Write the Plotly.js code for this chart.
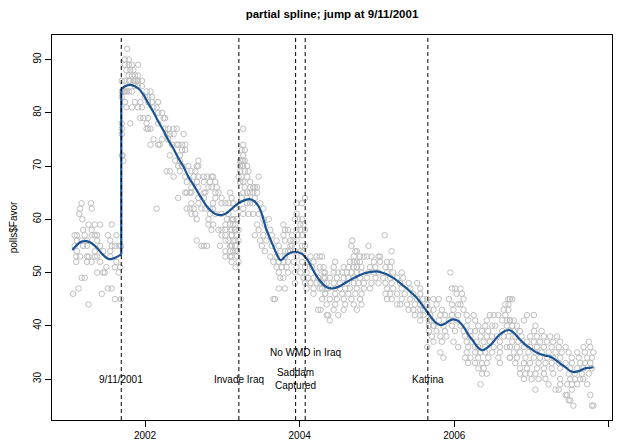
<!DOCTYPE html>
<html>
<head>
<meta charset="utf-8">
<script src="https://cdn.plot.ly/plotly-3.0.1.min.js"></script>
<style>html,body{margin:0;padding:0;background:#fff;}#chart{width:620px;height:442px;}</style>
</head>
<body>
<div id="chart"></div>
<script>
// Poll readings, grouped as [Favor value, [poll dates in decimal years]]
const polls2001 = [
  [63, [2001.18, 2001.30]], [62, [2001.16, 2001.31]], [61, [2001.15]], [60, [2001.19]],
  [59, [2001.27, 2001.35, 2001.42, 2001.57]], [58, [2001.20, 2001.31]],
  [57, [2001.09, 2001.12, 2001.22, 2001.31, 2001.35, 2001.38, 2001.52, 2001.63]],
  [56, [2001.12, 2001.18, 2001.25, 2001.38, 2001.55]],
  [55, [2001.09, 2001.20, 2001.25, 2001.42, 2001.57, 2001.61, 2001.66, 2001.69]],
  [54, [2001.12, 2001.35, 2001.46, 2001.55]],
  [53, [2001.11, 2001.16, 2001.25, 2001.27, 2001.35, 2001.38, 2001.55]],
  [52, [2001.11, 2001.25, 2001.31, 2001.42, 2001.63]], [51, [2001.50, 2001.61, 2001.68]],
  [50, [2001.38, 2001.46, 2001.48, 2001.66]], [49, [2001.18, 2001.22]],
  [47, [2001.14, 2001.52, 2001.57]], [46, [2001.07, 2001.44]], [45, [2001.61, 2001.69]], [44, [2001.27]]
];
const polls2002 = [
  [92, [2001.77]], [90, [2001.74, 2001.79]], [89, [2001.74, 2001.79, 2001.83, 2001.91]],
  [88, [2001.76, 2001.81, 2001.85]], [87, [2001.79, 2001.83, 2001.87, 2001.91]],
  [86, [2001.70, 2001.74, 2001.79, 2001.81, 2001.85, 2001.87, 2001.89, 2001.91, 2001.96]],
  [85, [2001.87, 2001.91, 2001.96]],
  [84, [2001.70, 2001.72, 2001.74, 2001.76, 2001.79, 2001.83, 2002.02, 2002.07]],
  [83, [2001.70, 2002.00, 2002.04, 2002.09]],
  [82, [2001.74, 2001.87, 2001.94, 2002.04, 2002.09, 2002.17]],
  [81, [2001.76, 2001.83, 2001.91, 2001.96, 2002.11, 2002.15]], [80, [2002.17, 2002.22]],
  [79, [2001.94, 2001.98, 2002.04, 2002.24, 2002.26]], [78, [2001.70, 2001.81, 2002.02, 2002.17]],
  [77, [2001.70, 2002.02, 2002.04, 2002.07, 2002.26, 2002.30, 2002.37, 2002.41]],
  [76, [2001.70, 2002.28, 2002.32, 2002.37, 2002.50]], [75, [2002.11, 2002.22, 2002.30]],
  [74, [2002.07, 2002.17, 2002.19, 2002.35, 2002.41, 2002.43, 2002.48, 2002.52]],
  [73, [2002.48, 2002.52]], [72, [2001.70, 2001.71, 2002.32, 2002.45]],
  [71, [2001.72, 2002.39, 2002.45, 2002.69]], [70, [2002.43, 2002.48, 2002.56, 2002.67, 2002.69]],
  [69, [2002.28, 2002.32, 2002.45, 2002.60, 2002.65]],
  [68, [2002.37, 2002.52, 2002.63, 2002.69, 2002.76, 2002.80, 2002.86, 2002.88]],
  [67, [2002.54, 2002.67, 2002.76, 2002.84, 2002.91]], [66, [2002.60, 2002.69, 2002.82, 2002.86, 2002.93]],
  [65, [2002.52, 2002.54, 2002.58, 2002.60, 2002.76, 2002.78, 2002.91, 2002.95, 2003.10]],
  [64, [2002.43, 2002.69, 2002.76, 2002.91, 2002.99]],
  [63, [2002.60, 2002.69, 2002.88, 2002.99, 2003.04, 2003.08, 2003.14]],
  [62, [2002.15, 2002.54, 2002.58, 2002.63, 2002.73, 2002.78, 2002.84, 2002.88]],
  [61, [2002.60, 2002.65, 2002.84, 2002.91, 2002.99, 2003.08]],
  [60, [2002.67, 2002.82, 2003.06, 2003.12, 2003.14, 2003.19]],
  [59, [2002.82, 2002.88, 2003.04, 2003.10, 2003.14]],
  [58, [2002.86, 2002.95, 2002.99, 2003.04, 2003.10, 2003.17]], [57, [2002.99, 2003.04, 2003.12]],
  [56, [2002.67, 2003.04, 2003.08, 2003.17]],
  [55, [2002.73, 2002.76, 2002.80, 2002.97, 2003.10, 2003.12, 2003.17]],
  [54, [2003.04, 2003.10, 2003.17]], [53, [2003.04, 2003.10, 2003.19]], [52, [2003.12]]
];
const polls2003 = [
  [77, [2003.27]], [74, [2003.27]], [73, [2003.25, 2003.29]], [72, [2003.27]],
  [71, [2003.23, 2003.25, 2003.27, 2003.29]], [70, [2003.23, 2003.27, 2003.32]],
  [69, [2003.23, 2003.29, 2003.34]], [68, [2003.21, 2003.25, 2003.32, 2003.47]],
  [67, [2003.23, 2003.27, 2003.36]], [66, [2003.29, 2003.36, 2003.40, 2003.42, 2003.45]],
  [65, [2003.27, 2003.32, 2003.36, 2003.40, 2003.45]], [64, [2003.12, 2003.25, 2003.32, 2003.42, 2004.07]],
  [63, [2003.32, 2003.36, 2003.40, 2003.49, 2003.96, 2004.03]], [62, [2003.17, 2003.27, 2003.53]],
  [61, [2003.27, 2003.34, 2003.40, 2003.47, 2003.96]],
  [60, [2003.14, 2003.19, 2003.53, 2003.60, 2003.94, 2003.98, 2004.03]],
  [59, [2003.17, 2003.45, 2003.55, 2003.79, 2004.01, 2004.05]],
  [58, [2003.12, 2003.17, 2003.21, 2003.47, 2003.62, 2003.81, 2003.85, 2003.96, 2004.01, 2004.07]],
  [57, [2003.12, 2003.19, 2003.42, 2003.53, 2003.64, 2003.79, 2003.90, 2003.98, 2004.03]],
  [56, [2003.14, 2003.21, 2003.49, 2003.57, 2003.70, 2003.81, 2003.88, 2003.92, 2003.96]],
  [55, [2003.12, 2003.17, 2003.51, 2003.64, 2003.73, 2003.88, 2003.90, 2004.03, 2004.07]],
  [54, [2003.14, 2003.19, 2003.55, 2003.75, 2003.81, 2003.85, 2003.88, 2003.94, 2004.01, 2004.05]],
  [53, [2003.12, 2003.62, 2003.70, 2003.81, 2003.96, 2004.14, 2004.22, 2004.26]],
  [52, [2003.21, 2003.66, 2003.73, 2003.79, 2003.85, 2003.92, 2004.03, 2004.11, 2004.18]],
  [51, [2003.17, 2003.70, 2003.77, 2003.83, 2003.96, 2004.07, 2004.16, 2004.26]],
  [50, [2003.73, 2003.85, 2003.94, 2004.01, 2004.09, 2004.22, 2004.31]],
  [49, [2003.75, 2003.79, 2004.05, 2004.11, 2004.18, 2004.24, 2004.33]],
  [48, [2003.94, 2004.07, 2004.14, 2004.22, 2004.31]],
  [47, [2003.73, 2003.81, 2004.09, 2004.18, 2004.26, 2004.35]], [46, [2004.18, 2004.33]],
  [45, [2003.66, 2003.68]], [43, [2004.24]], [42, [2004.35]]
];
const polls2005 = [
  [57, [2005.10]], [56, [2004.68]], [55, [2004.67, 2004.89]], [54, [2004.72, 2004.74, 2005.19]],
  [53, [2004.29, 2004.70, 2004.78, 2004.83, 2004.87, 2004.93, 2005.02, 2005.04]],
  [52, [2004.46, 2004.65, 2004.70, 2004.74, 2004.78, 2004.96, 2005.04, 2005.13, 2005.19]],
  [51, [2004.31, 2004.44, 2004.57, 2004.63, 2004.70, 2004.74, 2004.80, 2004.91, 2004.98, 2005.11, 2005.17]],
  [50, [2004.33, 2004.44, 2004.50, 2004.55, 2004.61, 2004.67, 2004.74, 2004.80, 2004.89, 2004.96, 2005.02, 2005.13, 2005.21, 2005.32]],
  [49, [2004.31, 2004.39, 2004.48, 2004.57, 2004.63, 2004.70, 2004.78, 2004.87, 2004.98, 2005.08, 2005.17, 2005.26, 2005.34]],
  [48, [2004.27, 2004.35, 2004.44, 2004.52, 2004.61, 2004.70, 2004.76, 2004.83, 2004.93, 2005.02, 2005.11, 2005.19, 2005.30, 2005.41, 2005.52]],
  [47, [2004.29, 2004.37, 2004.46, 2004.52, 2004.59, 2004.65, 2004.74, 2004.83, 2004.91, 2005.13, 2005.21, 2005.32, 2005.43, 2005.56]],
  [46, [2004.33, 2004.46, 2004.55, 2004.63, 2004.72, 2004.80, 2005.11, 2005.17, 2005.26, 2005.36, 2005.47, 2005.56]],
  [45, [2004.29, 2004.39, 2004.48, 2004.57, 2004.67, 2004.78, 2005.13, 2005.19, 2005.32, 2005.43, 2005.52, 2005.60, 2005.65]],
  [44, [2004.35, 2004.46, 2004.59, 2004.70, 2004.80, 2005.26, 2005.30, 2005.39, 2005.49, 2005.56, 2005.65]],
  [43, [2004.27, 2004.44, 2004.57, 2004.74, 2005.41, 2005.47, 2005.56, 2005.60, 2005.67]],
  [42, [2004.37, 2004.50, 2005.49, 2005.56, 2005.60, 2005.69]],
  [41, [2004.39, 2005.56, 2005.67, 2005.71]], [40, [2005.67, 2005.73]]
];
const polls2006 = [
  [50, [2005.95]], [47, [2005.97, 2006.01, 2006.08]], [46, [2006.03, 2006.10]],
  [45, [2005.73, 2005.80, 2005.93, 2006.12, 2006.70, 2006.72]],
  [44, [2005.77, 2005.97, 2006.05, 2006.08, 2006.66, 2006.70]],
  [43, [2005.73, 2005.84, 2005.99, 2006.12, 2006.64, 2006.70]],
  [42, [2005.82, 2005.88, 2005.97, 2006.05, 2006.16, 2006.25, 2006.46, 2006.51, 2006.57, 2006.66]],
  [41, [2005.80, 2005.93, 2006.03, 2006.18, 2006.27, 2006.42, 2006.62, 2006.68, 2006.72]],
  [40, [2005.73, 2005.86, 2005.97, 2006.08, 2006.16, 2006.31, 2006.40, 2006.49, 2006.53, 2006.68]],
  [39, [2005.67, 2005.77, 2005.88, 2006.01, 2006.12, 2006.21, 2006.27, 2006.36, 2006.44, 2006.62, 2006.72]],
  [38, [2005.71, 2005.82, 2005.90, 2006.14, 2006.21, 2006.34, 2006.42, 2006.49, 2006.55, 2006.64, 2006.70]],
  [37, [2005.73, 2005.84, 2005.99, 2006.16, 2006.23, 2006.29, 2006.38, 2006.46, 2006.59]],
  [36, [2005.65, 2006.05, 2006.18, 2006.27, 2006.31, 2006.40, 2006.51, 2006.59, 2006.68]],
  [35, [2005.82, 2006.16, 2006.27, 2006.34, 2006.40, 2006.49, 2006.59]],
  [34, [2005.86, 2006.14, 2006.21, 2006.31, 2006.44, 2006.57, 2006.72]],
  [33, [2006.18, 2006.27, 2006.36, 2006.42, 2006.59]], [32, [2006.31, 2006.38]],
  [31, [2006.36, 2006.42]], [29, [2006.34]]
];
const polls2007 = [
  [45, [2006.75]], [42, [2006.94, 2007.03]], [41, [2006.72, 2006.77, 2006.90]],
  [40, [2006.75, 2006.81, 2007.05]], [39, [2006.77, 2006.85, 2007.03, 2007.13]],
  [38, [2006.79, 2006.87, 2006.98, 2007.07, 2007.16, 2007.24, 2007.33]],
  [37, [2006.75, 2006.83, 2006.94, 2007.03, 2007.11, 2007.20, 2007.28, 2007.37, 2007.74]],
  [36, [2006.72, 2006.81, 2006.90, 2006.98, 2007.07, 2007.16, 2007.26, 2007.35, 2007.44, 2007.67, 2007.76]],
  [35, [2006.77, 2006.85, 2006.96, 2007.05, 2007.13, 2007.22, 2007.31, 2007.39, 2007.48, 2007.59, 2007.69, 2007.80]],
  [34, [2006.72, 2006.81, 2006.92, 2007.03, 2007.11, 2007.20, 2007.28, 2007.37, 2007.52, 2007.61, 2007.72, 2007.78]],
  [33, [2006.79, 2006.90, 2006.98, 2007.09, 2007.18, 2007.26, 2007.35, 2007.44, 2007.52, 2007.63, 2007.69, 2007.76]],
  [32, [2006.85, 2006.94, 2007.07, 2007.16, 2007.26, 2007.37, 2007.50, 2007.59, 2007.67, 2007.78]],
  [31, [2006.85, 2006.92, 2006.98, 2007.05, 2007.16, 2007.28, 2007.48, 2007.56, 2007.65, 2007.74]],
  [30, [2006.90, 2007.00, 2007.09, 2007.18, 2007.37, 2007.50, 2007.56, 2007.63, 2007.67]],
  [29, [2007.22, 2007.37, 2007.46, 2007.52, 2007.59, 2007.72]],
  [28, [2007.05, 2007.31, 2007.35, 2007.52]], [27, [2007.44, 2007.46, 2007.76]],
  [26, [2007.48, 2007.50]], [25, [2007.54, 2007.78, 2007.80]]
];

// Fitted partial spline: before 9/11 and after 9/11 (jump between them)
const splineYearBefore = [2001.06, 2001.12, 2001.18, 2001.24, 2001.30, 2001.38, 2001.45, 2001.52, 2001.56, 2001.62, 2001.693];
const splineFavorBefore = [54.2, 55.2, 55.8, 55.9, 55.6, 54.6, 53.4, 52.6, 52.5, 52.8, 53.4];
const splineYearAfter = [2001.693, 2001.76, 2001.83, 2001.91, 2001.98, 2002.04, 2002.11, 2002.17, 2002.24, 2002.30, 2002.37, 2002.43, 2002.50,
  2002.56, 2002.63, 2002.69, 2002.75, 2002.80, 2002.86, 2002.91, 2002.99, 2003.05, 2003.10, 2003.21, 2003.29, 2003.36,
  2003.42, 2003.47, 2003.52, 2003.57, 2003.62, 2003.66, 2003.70, 2003.75, 2003.78, 2003.81, 2003.88, 2003.94, 2004.03,
  2004.09, 2004.14, 2004.20, 2004.27, 2004.33, 2004.41, 2004.50, 2004.61, 2004.72, 2004.83, 2004.92, 2005.00, 2005.08,
  2005.15, 2005.23, 2005.30, 2005.37, 2005.43, 2005.50, 2005.56, 2005.62, 2005.69, 2005.75, 2005.82, 2005.88, 2005.94,
  2005.99, 2006.05, 2006.12, 2006.18, 2006.25, 2006.30, 2006.36, 2006.42, 2006.49, 2006.55, 2006.62, 2006.70, 2006.76,
  2006.85, 2006.92, 2006.98, 2007.05, 2007.11, 2007.18, 2007.24, 2007.31, 2007.37, 2007.44, 2007.50, 2007.56, 2007.63,
  2007.69, 2007.75, 2007.80];
const splineFavorAfter = [84.5, 85.1, 85.2, 84.6, 83.4, 81.8, 80.1, 78.4, 76.6, 74.9, 73.2, 71.5, 69.8,
  68.0, 66.4, 64.9, 63.5, 62.4, 61.5, 61.0, 60.8, 61.1, 61.7, 63.0, 63.6, 63.75,
  63.3, 62.4, 60.6, 58.0, 56.3, 54.9, 53.5, 52.35, 52.5, 53.0, 53.7, 53.9, 53.5,
  52.6, 51.4, 49.8, 48.3, 47.4, 47.0, 47.3, 48.2, 49.1, 49.8, 50.1, 50.2, 49.9,
  49.5, 48.8, 48.0, 47.2, 46.4, 45.5, 44.4, 43.2, 41.8, 40.7, 40.1, 40.4, 41.0,
  41.2, 40.9, 39.8, 38.4, 37.0, 36.0, 35.4, 35.8, 36.7, 37.8, 38.7, 39.2, 38.8,
  37.4, 36.4, 35.8, 35.1, 34.7, 34.4, 34.2, 33.6, 32.9, 32.2, 31.5, 31.3, 31.6,
  32.0, 32.1, 32.2];

// Events
const eventDates = [2001.693, 2003.214, 2003.948, 2004.072, 2005.658];
const eventLabels = ["9/11/2001", "Invade Iraq", "Saddam<br>Captured", "No WMD in Iraq", "Katrina"];
const eventLabelY = [30, 30, 30, 35, 30];

const xTicks = [2002, 2004, 2006, 2008];
const xTickText = ["2002", "2004", "2006", "2008"];
const yTicks = [30, 40, 50, 60, 70, 80, 90];

const pollYear = [], pollFavor = [];
[polls2001, polls2002, polls2003, polls2005, polls2006, polls2007].forEach(function (grp) {
  grp.forEach(function (row) {
    row[1].forEach(function (yr) { pollYear.push(yr); pollFavor.push(row[0]); });
  });
});

const FONT = "Liberation Sans, Arial, Helvetica, sans-serif";
const LINE_COLOR = "#1a5393";
const nB = splineYearBefore.length;

const traces = [
  {
    x: pollYear, y: pollFavor, type: "scatter", mode: "markers",
    marker: { symbol: "circle-open", size: 5.5, color: "#bebebe", line: { color: "#bebebe", width: 1 } },
    hoverinfo: "skip"
  },
  {
    x: splineYearBefore, y: splineFavorBefore, type: "scatter", mode: "lines",
    line: { color: LINE_COLOR, width: 2.2, shape: "spline", smoothing: 0.8 }, hoverinfo: "skip"
  },
  {
    x: [splineYearBefore[nB - 1], splineYearAfter[0]], y: [splineFavorBefore[nB - 1], splineFavorAfter[0]],
    type: "scatter", mode: "lines", line: { color: LINE_COLOR, width: 2.2 }, hoverinfo: "skip"
  },
  {
    x: splineYearAfter, y: splineFavorAfter, type: "scatter", mode: "lines",
    line: { color: LINE_COLOR, width: 2.2, shape: "spline", smoothing: 0.8 }, hoverinfo: "skip"
  }
];

const shapes = eventDates.map(function (d) {
  return { type: "line", xref: "x", yref: "paper", x0: d, x1: d, y0: 0, y1: 1,
    line: { color: "black", width: 1, dash: "4px,3px" } };
});

const annotations = eventDates.map(function (d, i) {
  return { x: d, y: eventLabelY[i], xref: "x", yref: "y", text: eventLabels[i], showarrow: false,
    font: { family: FONT, size: 10, color: "black" }, xanchor: "center", yanchor: "middle" };
});

const layout = {
  width: 620, height: 442,
  margin: { l: 52, r: 8, t: 35, b: 22, pad: 0 },
  paper_bgcolor: "white", plot_bgcolor: "white",
  showlegend: false,
  font: { family: FONT, size: 10, color: "black" },
  title: { text: "partial spline; jump at 9/11/2001", font: { family: FONT, size: 11.5, weight: "bold", color: "black" },
    xref: "paper", x: 0.5, xanchor: "center", yref: "container", y: 0.968, yanchor: "middle" },
  xaxis: {
    range: [2000.797, 2008.04], tickvals: xTicks, ticktext: xTickText,
    ticks: "outside", ticklen: 6, tickwidth: 1, tickcolor: "black",
    showline: true, mirror: true, linecolor: "black", linewidth: 1,
    showgrid: false, zeroline: false, tickfont: { family: FONT, size: 10, color: "black" }
  },
  yaxis: {
    range: [22.3, 94.6], tickvals: yTicks, tickangle: -90,
    ticks: "outside", ticklen: 6, tickwidth: 1, tickcolor: "black",
    showline: true, mirror: true, linecolor: "black", linewidth: 1,
    showgrid: false, zeroline: false, tickfont: { family: FONT, size: 10, color: "black" },
    title: { text: "polls$Favor", font: { family: FONT, size: 10, color: "black" }, standoff: 12 }
  },
  shapes: shapes,
  annotations: annotations
};

Plotly.newPlot("chart", traces, layout, { staticPlot: true, displayModeBar: false });
</script>
</body>
</html>
